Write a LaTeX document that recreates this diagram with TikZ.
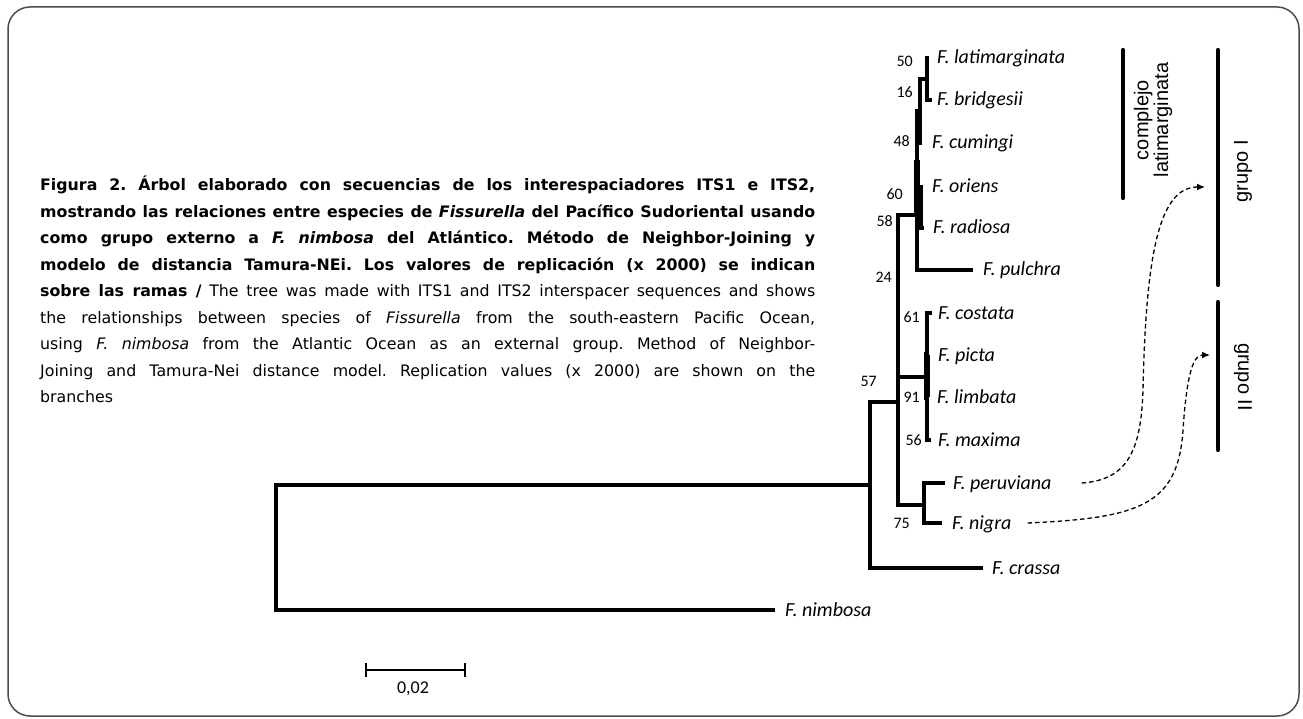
\documentclass[tikz,border=0pt]{standalone}
\usepackage{fontspec}
\setmainfont{DejaVu Sans}
\newfontfamily\treefont{Carlito}
\newfontfamily\grpfont{Liberation Sans}
\usetikzlibrary{arrows.meta,positioning}

\begin{document}
\begin{tikzpicture}[x=1pt, y=-1pt,
    branch/.style={line width=3.2pt, line join=miter},
    dense/.style={branch, line width=5.2pt},
    taxon/.style={font=\treefont\itshape\fontsize{20}{20}\selectfont, anchor=west, inner sep=0pt, text height=12pt, text depth=0pt},
    boot/.style={font=\treefont\fontsize{16}{16}\selectfont, anchor=east, inner sep=0pt, text height=10pt, text depth=0pt},
    grpbar/.style={line width=4.2pt, line cap=round},
    grplabel/.style={font=\grpfont\fontsize{20}{18}\selectfont, align=center, inner sep=0pt},
    link/.style={-{Latex[length=8pt,width=7pt]}, dash pattern=on 4.5pt off 3pt, line width=1.3pt},
    caption/.style={font=\fontsize{15.8}{26.5}\selectfont\frenchspacing, text width=775pt, align=justify, anchor=north west, inner sep=0pt},
]
\useasboundingbox (0,0) rectangle (1303,719);
\draw[line width=1.5pt, black!70, rounded corners=22pt] (8,7) rectangle (1299,716);

% Caption
\node[caption] (cap) at (40,176) {\tolerance=10000\relax
  \textbf{Figura 2. Árbol elaborado con secuencias de los interespaciadores ITS1 e ITS2,}\linebreak
  \textbf{mostrando las relaciones entre especies de \textit{Fissurella} del Pacífico Sudoriental usando}\linebreak
  \textbf{como grupo externo a \textit{F. nimbosa} del Atlántico. Método de Neighbor-Joining y}\linebreak
  \textbf{modelo de distancia Tamura-NEi. Los valores de replicación (x 2000) se indican}\linebreak
  \textbf{sobre las ramas /} The tree was made with ITS1 and ITS2 interspacer sequences and shows\linebreak
  the relationships between species of \textit{Fissurella} from the south-eastern Pacific Ocean,\linebreak
  using \textit{F. nimbosa} from the Atlantic Ocean as an external group. Method of Neighbor-\linebreak
  Joining and Tamura-Nei distance model. Replication values (x 2000) are shown on the\linebreak
  branches};

% Tree nodes
\coordinate (R) at (276,547);
\coordinate (A) at (870,485);
\coordinate (B) at (898,402);
\coordinate (C) at (917,215);
\coordinate (K) at (917,160);
\coordinate (H) at (920,111);
\coordinate (G) at (927,79);
\coordinate (J) at (921,195);
\coordinate (E) at (927,377);
\coordinate (D) at (924,505);

% Tips
\coordinate (t-lat) at (929,58);
\coordinate (t-bri) at (932,100);
\coordinate (t-cum) at (922,143);
\coordinate (t-ori) at (923,187);
\coordinate (t-rad) at (924,228);
\coordinate (t-pul) at (973,270);
\coordinate (t-cos) at (932,313);
\coordinate (t-pic) at (928,355);
\coordinate (t-lim) at (928,397);
\coordinate (t-max) at (931,440);
\coordinate (t-per) at (945,483);
\coordinate (t-nig) at (942,523);
\coordinate (t-cra) at (983,568);
\coordinate (t-nim) at (775,610);

% Branches
\draw[branch] (A) -| (R) |- (t-nim);
\draw[branch] (B) -| (A) |- (t-cra);
\draw[branch] (C) -| (B) |- (D);
\draw[branch] (B) |- (E);
\draw[branch] (t-per) -| (D) |- (t-nig);
\draw[branch] (K) -| (C) |- (t-pul);
\draw[dense] (K) -- (C);
\draw[branch] (H) -| (K) |- (J);
\draw[branch] (G) -| (H) |- (t-cum);
\draw[branch] (t-lat) -| (G) |- (t-bri);
\draw[branch] (t-ori) -| (J) |- (t-rad);
\draw[branch] (t-cos) -| (E) |- (t-max);
\draw[dense] (E) |- (t-pic);
\draw[dense] (E) |- (t-lim);

% Taxa
\node[taxon, right=8pt of t-lat] (lat) {F. latimarginata};
\node[taxon, right=5pt of t-bri] (bri) {F. bridgesii};
\node[taxon, right=10pt of t-cum] (cum) {F. cumingi};
\node[taxon, right=9pt of t-ori] (ori) {F. oriens};
\node[taxon, right=9pt of t-rad] (rad) {F. radiosa};
\node[taxon, right=10pt of t-pul] (pul) {F. pulchra};
\node[taxon, right=6pt of t-cos] (cos) {F. costata};
\node[taxon, right=10pt of t-pic] (pic) {F. picta};
\node[taxon, right=9pt of t-lim] (lim) {F. limbata};
\node[taxon, right=7pt of t-max] (max) {F. maxima};
\node[taxon, right=8pt of t-per] (per) {F. peruviana};
\node[taxon, right=10pt of t-nig] (nig) {F. nigra};
\node[taxon, right=9pt of t-cra] (cra) {F. crassa};
\node[taxon, right=10pt of t-nim] (nim) {F. nimbosa};

% Replication values
\node[boot] (b50) at (913,62) {50};
\node[boot] (b16) at (913,93) {16};
\node[boot] (b48) at (910,142) {48};
\node[boot] (b60) at (903,195) {60};
\node[boot] (b58) at (893,222) {58};
\node[boot] (b24) at (892,278) {24};
\node[boot] (b61) at (920,317) {61};
\node[boot] (b57) at (877,381) {57};
\node[boot] (b91) at (920,397) {91};
\node[boot] (b56) at (922,440) {56};
\node[boot] (b75) at (910,523) {75};

% Scale
\coordinate (sc-l) at (365,670);
\coordinate (sc-r) at (466,670);
\draw[line width=1.8pt, {Bar[width=14pt]}-{Bar[width=14pt]}] (sc-l) -- (sc-r);
\node[font=\treefont\fontsize{18}{18}\selectfont, anchor=north, inner sep=0pt] (scl) at (413,682) {0,02};

% Groups
\coordinate (cx-top) at (1123,50);
\coordinate (cx-bot) at (1123,198);
\coordinate (g1-top) at (1218,50);
\coordinate (g1-bot) at (1218,285);
\coordinate (g2-top) at (1218,302);
\coordinate (g2-bot) at (1218,450);
\draw[grpbar] (cx-top) -- (cx-bot);
\draw[grpbar] (g1-top) -- (g1-bot);
\draw[grpbar] (g2-top) -- (g2-bot);
\node[grplabel, rotate=90] (cxlab) at (1153,120) {complejo\\latimarginata};
\node[grplabel, rotate=90] (g1lab) at (1243,171) {grupo I};
\node[grplabel, rotate=-90] (g2lab) at (1243,377) {grupo II};

% Dashed links
\coordinate (g1-in) at (1205,187);
\coordinate (g2-in) at (1210,355);
\draw[link] ([xshift=30pt]per.east) .. controls (1128,480) and (1141,450) .. (1143,390)
  .. controls (1146,250) and (1160,187) .. (g1-in);
\draw[link] ([xshift=16pt]nig.east) .. controls (1140,518) and (1178,505) .. (1183,430)
  .. controls (1187,370) and (1194,355) .. (g2-in);

\end{tikzpicture}
\end{document}
